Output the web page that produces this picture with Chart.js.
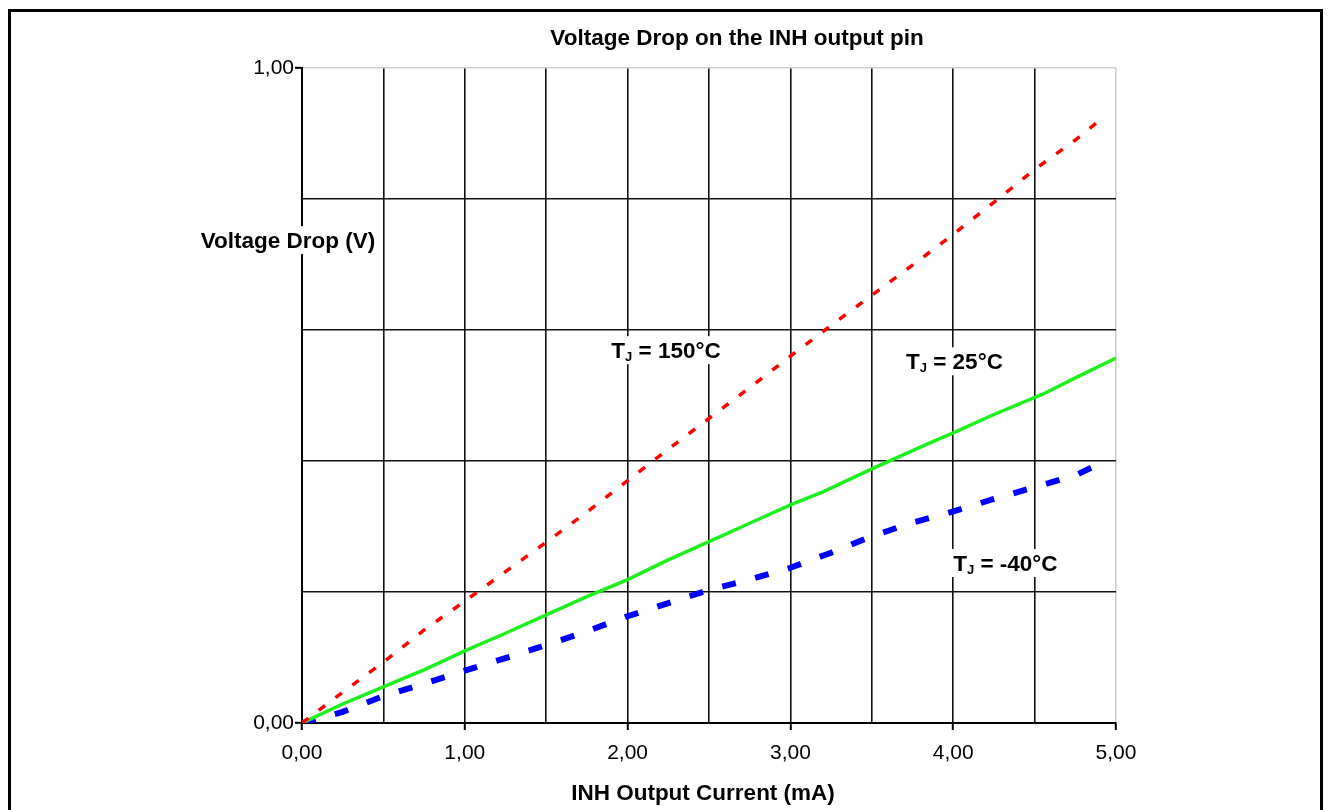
<!DOCTYPE html>
<html>
<head>
<meta charset="utf-8">
<title>Voltage Drop on the INH output pin</title>
<script src="https://cdn.jsdelivr.net/npm/chart.js@4.4.0/dist/chart.umd.min.js"></script>
<style>
    html, body { margin: 0; padding: 0; background: #fff; }
    #wrap { width: 1329px; height: 810px; position: relative; }
</style>
</head>
<body>
<div id="wrap"><canvas id="dropChart"></canvas></div>
<script>
// Courant de sortie (mA) et chute de tension (V)
const current150 = [0, 0.25, 0.5, 0.75, 1.0, 1.25, 1.5, 1.75, 2.0, 2.25, 2.5, 2.75, 3.0, 3.25, 3.5, 3.75, 4.0, 4.25, 4.5, 4.75, 4.93];
const drop150    = [0, 0.047, 0.093, 0.142, 0.186, 0.231, 0.276, 0.322, 0.370, 0.418, 0.465, 0.512, 0.560, 0.607, 0.653, 0.699, 0.746, 0.795, 0.845, 0.890, 0.926];

const current25 = [0, 0.25, 0.5, 0.66, 0.75, 1.0, 1.25, 1.5, 1.75, 2.0, 2.1, 2.25, 2.5, 2.75, 3.0, 3.2, 3.5, 3.85, 4.0, 4.25, 4.55, 4.75, 5.0];
const drop25    = [0, 0.029, 0.055, 0.072, 0.081, 0.110, 0.137, 0.165, 0.193, 0.219, 0.231, 0.249, 0.277, 0.305, 0.333, 0.353, 0.388, 0.427, 0.443, 0.471, 0.502, 0.527, 0.557];

const currentM40 = [0, 0.25, 0.5, 0.75, 1.0, 1.25, 1.5, 1.75, 2.0, 2.25, 2.5, 2.75, 3.0, 3.25, 3.5, 3.75, 4.0, 4.25, 4.5, 4.75, 4.9];
const dropM40    = [0, 0.017, 0.041, 0.060, 0.080, 0.099, 0.119, 0.140, 0.163, 0.183, 0.203, 0.219, 0.237, 0.260, 0.285, 0.306, 0.323, 0.342, 0.360, 0.378, 0.396];

const xTicks = [0, 1, 2, 3, 4, 5];
const yTicks = [0, 1];

// Étiquettes des courbes : [texte après l'indice, courant (mA), tension (V)]
const curveLabels = [
    [' = 150°C', 1.90, 0.557],
    [' = 25°C', 3.71, 0.540],
    [' = -40°C', 4.00, 0.232]
];

function toPoints(xs, ys) {
    return xs.map((x, i) => ({ x: x, y: ys[i] }));
}

function fmt(v) {
    return v.toFixed(2).replace('.', ',');
}

const FONT = '"Liberation Sans", Arial, Helvetica, sans-serif';
const BOLD = 'bold 22.5px ' + FONT;

// Textes, étiquettes et cadre extérieur
const textPlugin = {
    id: 'textPlugin',
    afterDraw(chart) {
        const ctx = chart.ctx;
        const xs = chart.scales.x;
        const ys = chart.scales.y;
        const area = chart.chartArea;

        ctx.save();
        ctx.fillStyle = '#000';
        ctx.textBaseline = 'alphabetic';

        // Titre
        ctx.font = BOLD;
        ctx.textAlign = 'center';
        ctx.fillText('Voltage Drop on the INH output pin', 737, 45);

        // Titre de l'axe X
        ctx.fillText('INH Output Current (mA)', (area.left + area.right) / 2 - 6, 800);

        // Titre de l'axe Y (fond blanc)
        ctx.textAlign = 'right';
        const yLabel = 'Voltage Drop (V)';
        const yw = ctx.measureText(yLabel).width;
        const yRight = xs.getPixelForValue(0.45);
        const yBase = ys.getPixelForValue(0.725);
        ctx.fillStyle = '#fff';
        ctx.fillRect(yRight - yw - 3, yBase - 22, yw + 6, 28);
        ctx.fillStyle = '#000';
        ctx.fillText(yLabel, yRight, yBase);

        // Étiquettes T_J
        ctx.textAlign = 'left';
        curveLabels.forEach(([rest, cx, cy]) => {
            const left = xs.getPixelForValue(cx);
            const base = ys.getPixelForValue(cy);
            ctx.font = BOLD;
            const wT = ctx.measureText('T').width;
            const wRest = ctx.measureText(rest).width;
            ctx.font = 'bold 13px ' + FONT;
            const wJ = ctx.measureText('J').width;
            const total = wT + wJ + wRest;
            ctx.fillStyle = '#fff';
            ctx.fillRect(left - 3, base - 22, total + 6, 28);
            ctx.fillStyle = '#000';
            ctx.font = BOLD;
            ctx.fillText('T', left, base);
            ctx.font = 'bold 13px ' + FONT;
            ctx.fillText('J', left + wT, base + 3);
            ctx.font = BOLD;
            ctx.fillText(rest, left + wT + wJ, base);
        });

        // Cadre
        ctx.strokeStyle = '#000';
        ctx.lineWidth = 3;
        ctx.strokeRect(9.5, 10.5, 1312, 830);
        ctx.restore();
    }
};

function initChart() {
    const ctx = document.getElementById('dropChart').getContext('2d');

    new Chart(ctx, {
        type: 'line',
        data: {
            datasets: [
                {
                    label: 'TJ = 150°C',
                    data: toPoints(current150, drop150),
                    borderColor: '#ff0000',
                    borderWidth: 3.5,
                    borderDash: [8, 13],
                    pointRadius: 0,
                    tension: 0
                },
                {
                    label: 'TJ = 25°C',
                    data: toPoints(current25, drop25),
                    borderColor: '#1ef01e',
                    borderWidth: 3.5,
                    pointRadius: 0,
                    tension: 0
                },
                {
                    label: 'TJ = -40°C',
                    data: toPoints(currentM40, dropM40),
                    borderColor: '#0000ff',
                    borderWidth: 6,
                    borderDash: [14, 20],
                    pointRadius: 0,
                    tension: 0
                }
            ]
        },
        options: {
            responsive: true,
            maintainAspectRatio: false,
            animation: false,
            layout: {
                padding: { top: 68, right: 213, bottom: 0, left: 0 }
            },
            plugins: {
                legend: { display: false },
                tooltip: { enabled: false },
                title: { display: false }
            },
            scales: {
                x: {
                    type: 'linear',
                    min: 0,
                    max: 5,
                    afterFit(scale) { scale.height = 87; },
                    afterBuildTicks(scale) {
                        scale.ticks = [];
                        for (let i = 0; i <= 10; i++) scale.ticks.push({ value: i / 2 });
                    },
                    ticks: {
                        autoSkip: false,
                        maxRotation: 0,
                        padding: 11,
                        color: '#000',
                        font: { family: FONT, size: 21 },
                        callback: v => xTicks.includes(v) ? fmt(v) : ''
                    },
                    grid: {
                        color: c => (c.tick && c.tick.value === 5) ? '#cfcfcf' : '#111',
                        lineWidth: 1.6,
                        tickLength: 7,
                        tickColor: c => (c.tick && xTicks.includes(c.tick.value)) ? '#000' : 'rgba(0,0,0,0)',
                        tickWidth: 2
                    },
                    border: { color: '#000', width: 2 }
                },
                y: {
                    type: 'linear',
                    min: 0,
                    max: 1,
                    afterFit(scale) { scale.width = 302; },
                    afterBuildTicks(scale) {
                        scale.ticks = [0, 0.2, 0.4, 0.6, 0.8, 1].map(v => ({ value: v }));
                    },
                    ticks: {
                        autoSkip: false,
                        padding: 1,
                        color: '#000',
                        font: { family: FONT, size: 21 },
                        callback: v => yTicks.includes(v) ? fmt(v) : ''
                    },
                    grid: {
                        color: c => (c.tick && c.tick.value === 1) ? '#cfcfcf' : '#111',
                        lineWidth: 1.6,
                        tickLength: 7,
                        tickColor: c => (c.tick && yTicks.includes(c.tick.value)) ? '#000' : 'rgba(0,0,0,0)',
                        tickWidth: 2
                    },
                    border: { color: '#000', width: 2 }
                }
            }
        },
        plugins: [textPlugin]
    });
}

document.addEventListener('DOMContentLoaded', () => {
    initChart();
});
</script>
</body>
</html>
